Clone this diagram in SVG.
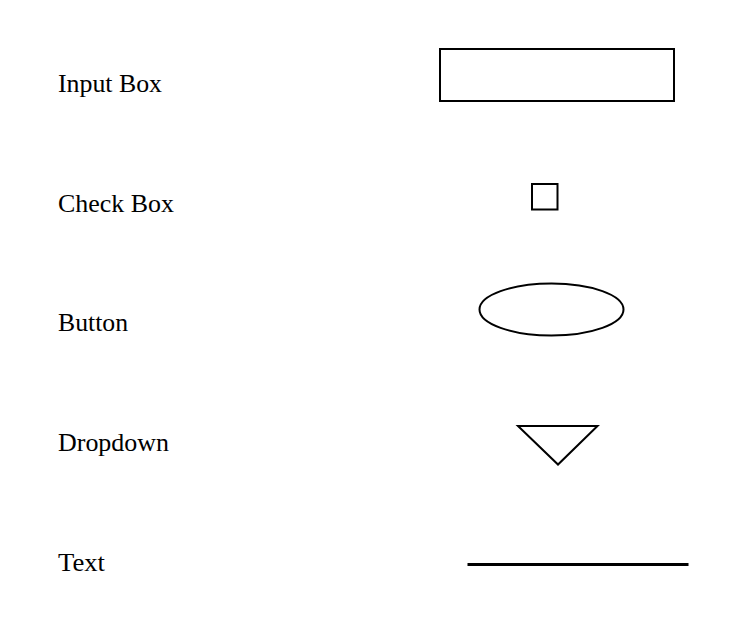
<svg xmlns="http://www.w3.org/2000/svg" width="748" height="631" viewBox="0 0 748 631">
<style>
.lbl{font-family:"Liberation Serif","Times New Roman",serif;font-size:25px;fill:#000}
.sh{fill:none;stroke:#000;stroke-width:2}
</style>
<rect width="748" height="631" fill="#fff"/>
<g id="input-box">
<text class="lbl" x="58" y="92" textLength="104" lengthAdjust="spacingAndGlyphs">Input Box</text>
<rect class="sh" x="440" y="49" width="234" height="52"/>
</g>
<g id="check-box">
<text class="lbl" x="58" y="211.5" textLength="116" lengthAdjust="spacingAndGlyphs">Check Box</text>
<rect class="sh" x="532" y="184" width="25.5" height="25.5"/>
</g>
<g id="button">
<text class="lbl" x="58" y="331" textLength="70" lengthAdjust="spacingAndGlyphs">Button</text>
<ellipse class="sh" cx="551.5" cy="309.5" rx="72" ry="26"/>
</g>
<g id="dropdown">
<text class="lbl" x="58" y="451" textLength="111" lengthAdjust="spacingAndGlyphs">Dropdown</text>
<polygon class="sh" points="518,426 597.5,426 558,464.5"/>
</g>
<g id="text">
<text class="lbl" x="58" y="570.5" textLength="47" lengthAdjust="spacingAndGlyphs">Text</text>
<line x1="467.5" y1="564.5" x2="688.5" y2="564.5" stroke="#000" stroke-width="3"/>
</g>
</svg>
